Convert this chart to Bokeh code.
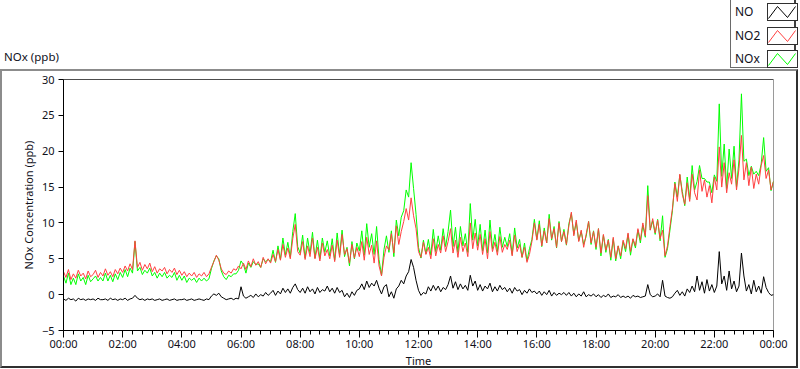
from bokeh.plotting import figure
from bokeh.layouts import column
from bokeh.models import Range1d, FixedTicker, Span, Div
from bokeh.embed import file_html
from bokeh.resources import INLINE

# time of day in minutes (one reading every 5 minutes, 00:00 -> 24:00)
minutes = list(range(0, 1441, 5))

no = [
    -0.6, -0.8, -0.5, -0.7, -0.6, -0.9, -0.5, -0.7, -0.6, -0.8, -0.6, -0.7,
    -0.6, -0.8, -0.5, -0.7, -0.7, -0.6, -0.8, -0.5, -0.7, -0.6, -0.8, -0.6,
    -0.7, -0.5, -0.8, -0.6, -0.5, -0.1, -0.5, -0.7, -0.6, -0.8, -0.6, -0.7,
    -0.6, -0.8, -0.7, -0.6, -0.8, -0.7, -0.6, -0.8, -0.7, -0.6, -0.8, -0.7,
    -0.7, -0.6, -0.8, -0.7, -0.6, -0.8, -0.7, -0.6, -0.7, -0.8, -0.6, -0.7,
    -0.2, 0.1, -0.1, 0.2, -0.3, -0.5, -0.7, -0.6, -0.5, -0.7, -0.5, -0.6,
    1.1, -0.2, -0.5, -0.3, -0.1, -0.4, 0.1, -0.3, 0.0, -0.2, 0.3, -0.1,
    0.2, 0.6, -0.1, 0.5, 0.1, 0.9, 0.3, 0.8, 0.2, 1.0, 1.5, 0.7,
    0.3, 0.9, 0.2, 1.1, 0.4, 0.8, 0.1, 1.0, 0.3, 0.7, 0.5, 1.2,
    0.4, 0.9, 0.2, 1.0, 0.3, 0.6, -0.3, 0.2, -0.4, 0.4, -0.1, 0.6,
    0.8, 1.5, 0.7, 1.9, 1.0, 1.6, 1.2, 2.0, 0.9, 0.1, 1.1, 1.4,
    -0.3, 0.4, -0.5, 0.8, 1.2, 2.0, 1.5, 2.6, 3.2, 4.9, 3.8, 2.0,
    0.6, -0.1, 0.3, 0.1, 1.1, 0.5, 1.3, 0.6, 1.2, 0.4, 1.0, 0.7,
    1.4, 2.6, 0.9, 1.8, 0.7, 1.5, 0.8, 1.3, 0.6, 2.7, 1.2, 1.9,
    0.6, 1.4, 0.5, 1.2, 0.8, 1.6, 0.4, 1.1, 0.5, 1.3, 0.7, 1.0,
    0.4, 0.9, 0.2, 1.0, 0.5, 0.7, 0.0, 0.6, 0.2, 0.8, 0.3, 0.5,
    0.1, 0.5, -0.1, 0.4, 0.0, 0.6, -0.2, 0.3, -0.1, 0.2, 0.0, 0.3,
    -0.1, 0.3, -0.2, 0.2, -0.3, 0.1, -0.2, 0.4, -0.3, 0.0, -0.2, 0.1,
    -0.3, 0.0, -0.4, -0.1, -0.3, 0.1, -0.4, -0.2, -0.3, 0.0, -0.4, -0.2,
    -0.4, -0.2, -0.5, -0.1, -0.3, -0.2, -0.4, -0.3, -0.2, 1.4, 0.0, -0.3,
    -0.2, 0.1, -0.3, 2.0, -0.2, -0.4, -0.5, -0.3, 0.2, 0.6, -0.1, 0.4,
    -0.2, 0.8, 0.3, 1.2, 0.4, 2.6, 0.6, 1.8, 0.2, 2.1, 0.5, 1.4,
    0.3, 1.2, 6.0, 1.5, 2.6, 0.6, 3.3, 0.8, 1.9, 0.4, 1.2, 5.8,
    2.6, 0.5, 1.4, 0.1, 2.0, 0.4, 1.2, 0.2, 2.5, 1.0, 0.3, -0.1,
    0.0,
]

no2 = [
    3.2, 2.4, 3.5, 2.1, 2.9, 2.3, 3.4, 2.6, 3.0, 2.2, 3.3, 2.5,
    2.8, 3.4, 2.4, 3.1, 2.6, 3.6, 2.7, 3.2, 2.5, 3.5, 2.9, 3.7,
    3.1, 4.0, 3.3, 4.3, 3.5, 7.5, 3.8, 4.5, 3.4, 4.2, 3.6, 4.4,
    3.2, 3.9, 3.0, 3.6, 3.3, 3.8, 2.9, 3.5, 3.1, 3.7, 2.8, 3.4,
    2.7, 3.2, 2.5, 3.0, 2.6, 3.1, 2.4, 2.9, 2.6, 3.1, 2.5, 2.9,
    3.8, 4.6, 5.5, 4.8, 3.6, 3.0, 2.8, 3.3, 3.0, 3.6, 3.4, 4.0,
    3.6, 4.4, 3.5, 4.7, 3.9, 5.0, 4.1, 4.6, 3.8, 5.2, 4.3, 5.0,
    4.4, 5.6, 4.6, 6.3, 4.8, 7.0, 5.2, 6.5, 5.0, 7.8, 9.8, 6.0,
    5.5, 7.4, 4.9, 6.8, 5.3, 7.9, 5.0, 6.6, 4.7, 7.2, 5.4, 6.3,
    5.0, 6.9, 4.6, 7.6, 5.2, 8.4, 5.6, 6.4, 4.4, 7.0, 5.1, 6.6,
    5.3, 7.4, 4.8, 8.0, 5.6, 6.9, 4.4, 7.5, 4.0, 2.6, 5.2, 6.8,
    6.2, 8.5, 5.8, 9.6, 7.0, 8.8, 10.2, 12.0, 10.4, 13.5, 11.0, 9.2,
    6.0, 5.2, 7.3, 5.6, 6.6, 5.0, 7.8, 5.4, 7.0, 5.8, 8.2, 6.0,
    7.4, 9.2, 5.8, 7.6, 5.2, 8.0, 6.0, 7.2, 5.3, 10.0, 6.4, 8.6,
    6.2, 8.4, 5.6, 7.8, 5.0, 8.8, 6.0, 7.3, 5.5, 8.1, 5.9, 7.0,
    6.3, 7.6, 5.4, 8.3, 6.0, 7.0, 5.2, 6.6, 4.5, 5.6, 7.4, 10.0,
    7.6, 9.8, 6.8, 8.9, 7.2, 10.6, 7.8, 9.2, 6.6, 10.0, 7.4, 8.8,
    7.0, 9.6, 11.5, 8.2, 10.4, 7.4, 9.0, 6.6, 8.4, 10.2, 7.2, 8.8,
    6.6, 9.2, 5.8, 8.4, 6.2, 7.6, 5.2, 8.0, 5.0, 6.8, 5.4, 7.6,
    6.4, 8.6, 6.0, 7.8, 6.8, 9.2, 7.6, 10.0, 8.2, 13.8, 9.0, 10.6,
    8.6, 10.4, 7.8, 9.0, 5.4, 6.8, 9.5, 12.0, 15.5, 13.0, 16.8, 14.0,
    12.6, 15.6, 13.0, 16.8, 14.2, 13.2, 17.4, 14.4, 16.0, 13.6, 15.2, 12.8,
    16.4, 14.6, 20.6, 15.0, 18.4, 14.2, 17.0, 15.4, 18.8, 14.6, 17.6, 22.2,
    16.0, 18.4, 15.2, 17.8, 14.8, 16.8, 15.4, 18.0, 19.4, 16.2, 17.4, 14.6,
    15.8,
]

nox = [
    2.6, 1.6, 3.0, 1.4, 2.3, 1.4, 2.9, 1.9, 2.4, 1.4, 2.7, 1.8,
    2.2, 2.6, 1.9, 2.4, 1.9, 3.0, 1.9, 2.7, 1.8, 2.9, 2.1, 3.1,
    2.4, 3.5, 2.5, 3.7, 3.0, 7.4, 3.3, 3.8, 2.8, 3.4, 3.0, 3.7,
    2.6, 3.1, 2.3, 3.0, 2.5, 3.1, 2.3, 2.7, 2.4, 3.1, 2.0, 2.7,
    2.0, 2.6, 1.7, 2.3, 2.0, 2.3, 1.7, 2.3, 1.9, 2.3, 1.9, 2.2,
    3.6, 4.7, 5.4, 5.0, 3.3, 2.5, 2.1, 2.7, 2.5, 2.9, 2.9, 3.4,
    4.7, 4.2, 3.0, 4.4, 3.8, 4.6, 4.2, 4.3, 3.8, 5.0, 4.6, 4.9,
    4.6, 6.2, 4.5, 6.8, 4.9, 7.9, 5.5, 7.3, 5.2, 8.8, 11.3, 6.7,
    5.8, 8.3, 5.1, 7.9, 5.7, 8.7, 5.1, 7.6, 5.0, 7.9, 5.9, 7.5,
    5.4, 7.8, 4.8, 8.6, 5.5, 9.0, 5.3, 6.6, 4.0, 7.4, 5.0, 7.2,
    6.1, 8.9, 5.5, 9.9, 6.6, 8.5, 5.6, 9.5, 4.9, 2.7, 6.3, 8.2,
    5.9, 8.9, 5.3, 10.4, 8.2, 10.8, 11.7, 14.6, 13.6, 18.4, 14.8, 11.2,
    6.6, 5.1, 7.6, 5.7, 7.7, 5.5, 9.1, 6.0, 8.2, 6.2, 9.2, 6.7,
    8.8, 11.8, 6.7, 9.4, 5.9, 9.5, 6.8, 8.5, 5.9, 12.7, 7.6, 10.5,
    6.8, 9.8, 6.1, 9.0, 5.8, 10.4, 6.4, 8.4, 6.0, 9.4, 6.6, 8.0,
    6.7, 8.5, 5.6, 9.3, 6.5, 7.7, 5.2, 7.2, 4.7, 6.4, 7.7, 10.5,
    7.7, 10.3, 6.7, 9.3, 7.2, 11.2, 7.6, 9.5, 6.5, 10.2, 7.4, 9.1,
    6.9, 9.9, 11.3, 8.4, 10.1, 7.5, 8.8, 7.0, 8.1, 10.2, 7.0, 8.9,
    6.3, 9.2, 5.4, 8.3, 5.9, 7.7, 4.8, 7.8, 4.7, 6.8, 5.0, 7.4,
    6.0, 8.4, 5.5, 7.7, 6.5, 9.0, 7.2, 9.7, 8.0, 15.2, 9.0, 10.3,
    8.4, 10.5, 7.5, 11.0, 5.2, 6.4, 9.0, 11.7, 15.7, 13.6, 16.7, 14.4,
    12.4, 16.4, 13.3, 18.0, 14.6, 15.8, 18.0, 16.2, 16.2, 15.7, 15.7, 14.2,
    16.7, 15.8, 26.6, 16.5, 21.0, 14.8, 20.3, 16.2, 20.7, 15.0, 18.8, 28.0,
    18.6, 18.9, 16.6, 17.9, 16.8, 17.2, 16.6, 18.2, 21.9, 17.2, 17.7, 14.5,
    15.8,
]

series_names = ["NO", "NO2", "NOx"]
tick_minutes = [0, 120, 240, 360, 480, 600, 720, 840, 960, 1080, 1200, 1320, 1440]
tick_labels = ["00:00", "02:00", "04:00", "06:00", "08:00", "10:00", "12:00",
               "14:00", "16:00", "18:00", "20:00", "22:00", "00:00"]
minor_minutes = list(range(0, 1441, 20))
y_ticks = [-5, 0, 5, 10, 15, 20, 25, 30]

FONT = "Noto Sans"
TXT = "#10101a"
COLORS = {"NO": "#000000", "NO2": "#ff4040", "NOx": "#00ff00"}

W = 798
HEAD_H = 69
MAIN_H = 299

# ---------------- header: graph caption + plot legend (label left, sample box right) ----
legend_rows = ""
for i, name in enumerate(series_names):
    top = [3, 27, 50][i]
    legend_rows += (
        f'<div style="position:absolute;left:735px;top:{top + 1}px;font-size:12px;'
        f'line-height:16px;white-space:nowrap;">{name}</div>'
        f'<svg width="31" height="18" style="position:absolute;left:767px;top:{top}px;">'
        f'<rect x="0.5" y="0.5" width="30" height="17" fill="#ffffff" stroke="#303030" stroke-width="1"/>'
        f'<polyline points="1.5,15.5 10.5,3.5 20.5,14.5 28.5,3.5" fill="none" '
        f'stroke="{COLORS[name]}" stroke-width="1"/></svg>'
    )

header_html = (
    f'<div style="position:relative;width:{W}px;height:{HEAD_H}px;overflow:visible;margin:0;padding:0;'
    f'font-family:\'{FONT}\',sans-serif;color:{TXT};">'
    f'<div style="position:absolute;left:4px;top:49px;font-size:11.5px;line-height:16px;'
    f'white-space:nowrap;">NOx (ppb)</div>'
    f'<div style="position:absolute;left:730px;top:-2px;width:66px;height:70px;background:#ffffff;'
    f'border-left:1px solid #6a6a6a;border-bottom:1px solid #6a6a6a;border-right:2px solid #404040;"></div>'
    f'{legend_rows}</div>'
)
head = Div(text=header_html, width=W, height=HEAD_H, margin=0,
           styles={"overflow": "visible", "margin": "0px", "padding": "0px"})

# ---------------- main graph ----------------
p = figure(width=W, height=MAIN_H, x_range=Range1d(0, 1440), y_range=Range1d(-5, 30),
           output_backend="svg", toolbar_location=None, margin=0,
           min_border_left=61, min_border_right=27, min_border_top=8, min_border_bottom=37,
           styles={"border-top": "2px solid #8c8c8c", "border-left": "2px solid #8c8c8c",
                   "border-right": "2px solid #303030", "border-bottom": "2px solid #303030"})
p.title.visible = False
p.grid.visible = False
p.background_fill_color = "white"
p.border_fill_color = "white"
p.outline_line_color = "#9a9a9a"

p.xaxis.ticker = FixedTicker(ticks=tick_minutes, minor_ticks=minor_minutes)
p.xaxis.major_label_overrides = {t: l for t, l in zip(tick_minutes, tick_labels)}
p.yaxis.ticker = FixedTicker(ticks=y_ticks, minor_ticks=[])
for ax in (p.xaxis, p.yaxis):
    ax.axis_line_color = "black"
    ax.major_tick_line_color = "black"
    ax.minor_tick_line_color = "black"
    ax.major_tick_in = 0
    ax.minor_tick_in = 0
    ax.major_label_text_font = FONT
    ax.major_label_text_font_size = "11px"
    ax.major_label_text_color = TXT
    ax.axis_label_text_font = FONT
    ax.axis_label_text_font_size = "11px"
    ax.axis_label_text_font_style = "normal"
    ax.axis_label_text_color = TXT
p.xaxis.major_tick_out = 7
p.xaxis.minor_tick_out = 4
p.xaxis.major_label_standoff = -2
p.xaxis.axis_label = "Time"
p.xaxis.axis_label_standoff = -1
p.yaxis.major_tick_out = 5
p.yaxis.major_label_standoff = 4
p.yaxis.minor_tick_line_color = None
p.yaxis.axis_label = "NOx Concentration (ppb)"
p.yaxis.axis_label_standoff = 3

p.add_layout(Span(location=30, dimension="width", line_color="black", line_width=1))

p.line(minutes, nox, line_color=COLORS["NOx"], line_width=1)
p.line(minutes, no2, line_color=COLORS["NO2"], line_width=1)
p.line(minutes, no, line_color=COLORS["NO"], line_width=1)

layout = column(head, p, spacing=0, margin=0)
open("out.html", "w").write(file_html(layout, INLINE))
